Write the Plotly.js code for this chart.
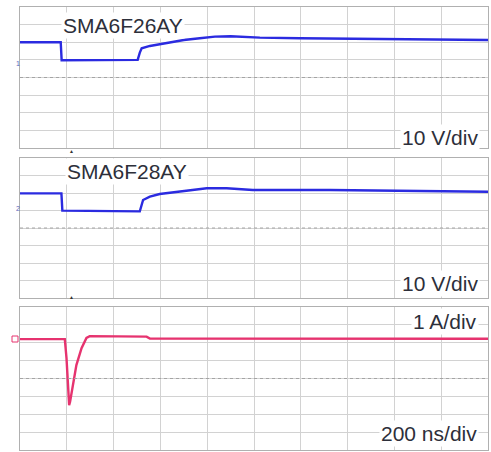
<!DOCTYPE html>
<html>
<head>
<meta charset="utf-8">
<script src="https://cdn.plot.ly/plotly-3.0.1.min.js"></script>
<style>html,body{margin:0;padding:0;background:#fff;}#chart{width:491px;height:452px;}</style>
</head>
<body>
<div id="chart"></div>
<script>
// Time axis (ns), 200 ns/div, trigger at 0
var timeRange = [-200, 1800];

// Panel 1: SMA6F26AY voltage (V, relative to channel ground marker)
var time1 = [-200, -26, -22, 303, 312, 320, 355, 400, 453, 500, 568, 633, 700, 825, 996, 1209, 1423, 1637, 1800];
var volt1 = [8.9, 8.9, -1.3, -1.1, 3.0, 5.5, 6.8, 7.8, 9.2, 10.2, 11.2, 12.1, 12.3, 11.5, 11.2, 11.0, 10.8, 10.5, 10.2];

// Panel 2: SMA6F28AY voltage (V)
var time2 = [-200, -23, -19, 312, 326, 355, 397, 483, 598, 683, 795, 1124, 1800];
var volt2 = [8.4, 8.4, -1.5, -1.9, 4.6, 6.5, 8.0, 9.3, 11.3, 11.3, 10.3, 10.3, 9.3];

// Panel 3: current (A)
var time3 = [-200, -8.5, -1.3, 3, 6.4, 10, 14, 27, 41, 63, 84, 98, 200, 341, 355, 600, 1000, 1400, 1800];
var curr3 = [0, 0, -1.06, -2.29, -3.41, -3.69, -3.5, -2.57, -1.45, -0.50, 0.07, 0.17, 0.14, 0.14, 0.03, 0.03, 0.04, 0.03, 0.02];

// Labels
var panelNames = ["SMA6F26AY", "SMA6F28AY"];
var scaleLabels = ["10 V/div", "10 V/div", "1 A/div", "200 ns/div"];

// Screen centres (in data units) and per-division sizes
var centers = [-11.1, -11.4, -2.2];
var perDiv = [10, 10, 1];

var W = 491, H = 452;
function px(x) { return x / W; }
function py(y) { return 1 - y / H; }

var blue = "#2b2be0";
var pink = "#e6336f";
var gridCol = "#d2d2d2";
var borderCol = "#b0b0b0";
var textCol = "#2d2f3a";
var fontFam = "Liberation Sans, Arial, sans-serif";

var traces = [
  {x: time1, y: volt1, xaxis: "x", yaxis: "y", mode: "lines", line: {color: blue, width: 2.4}, hoverinfo: "skip"},
  {x: time2, y: volt2, xaxis: "x2", yaxis: "y2", mode: "lines", line: {color: blue, width: 2.4}, hoverinfo: "skip"},
  {x: time3, y: curr3, xaxis: "x3", yaxis: "y3", mode: "lines", line: {color: pink, width: 2.4}, hoverinfo: "skip"}
];

var xdom = [px(20), px(488)];
var ydoms = [[py(148), py(7)], [py(298), py(158)], [py(450), py(307)]];

function xax(anchor) {
  return {domain: xdom, range: timeRange, tick0: -200, dtick: 200, showgrid: true, gridcolor: gridCol, gridwidth: 1,
    showticklabels: false, ticks: "", zeroline: false, showline: true, mirror: true, linecolor: borderCol, linewidth: 1,
    anchor: anchor, fixedrange: true};
}
function yax(i, anchor) {
  return {domain: ydoms[i], range: [centers[i] - 4 * perDiv[i], centers[i] + 4 * perDiv[i]], tick0: centers[i], dtick: perDiv[i],
    showgrid: true, gridcolor: gridCol, gridwidth: 1, showticklabels: false, ticks: "", zeroline: false,
    showline: true, mirror: true, linecolor: borderCol, linewidth: 1, anchor: anchor, fixedrange: true};
}

var shapes = [];
var yrefs = ["y", "y2", "y3"], xrefs = ["x", "x2", "x3"];
for (var i = 0; i < 3; i++) {
  shapes.push({type: "line", xref: xrefs[i], yref: yrefs[i], x0: timeRange[0], x1: timeRange[1], y0: centers[i], y1: centers[i],
    line: {color: "#a4a4a4", width: 1, dash: "3px,3px"}, layer: "above"});
}
// channel marker for current channel
shapes.push({type: "rect", xref: "paper", yref: "paper", x0: px(12), x1: px(18), y0: py(342), y1: py(336),
  line: {color: pink, width: 1}, fillcolor: "rgba(0,0,0,0)"});

function ann(text, x, y, xanchor) {
  return {text: text, xref: "paper", yref: "paper", x: x, y: y, xanchor: xanchor, yanchor: "middle", showarrow: false,
    font: {family: fontFam, size: 21, color: textCol}, bgcolor: "#ffffff", borderpad: 1};
}
var annotations = [
  ann(panelNames[0], px(61), py(25), "left"),
  ann(panelNames[1], px(65), py(172), "left"),
  ann(scaleLabels[0], px(480), py(137.5), "right"),
  ann(scaleLabels[1], px(480), py(283), "right"),
  ann(scaleLabels[2], px(479), py(321), "right"),
  ann(scaleLabels[3], px(479), py(433), "right"),
  {text: "▲", xref: "paper", yref: "paper", x: px(67), y: py(151), showarrow: false, font: {size: 5, color: "#333"}},
  {text: "▲", xref: "paper", yref: "paper", x: px(67), y: py(302), showarrow: false, font: {size: 5, color: "#333"}},
  {text: "1", xref: "paper", yref: "paper", x: px(14), y: py(58), showarrow: false, font: {family: fontFam, size: 7, color: "#5a68c0"}},
  {text: "2", xref: "paper", yref: "paper", x: px(14), y: py(208), showarrow: false, font: {family: fontFam, size: 7, color: "#5a68c0"}}
];

var layout = {
  width: W, height: H, autosize: false,
  margin: {l: 0, r: 0, t: 0, b: 0, pad: 0},
  paper_bgcolor: "#ffffff", plot_bgcolor: "#ffffff",
  showlegend: false,
  xaxis: xax("y"), yaxis: yax(0, "x"),
  xaxis2: xax("y2"), yaxis2: yax(1, "x2"),
  xaxis3: xax("y3"), yaxis3: yax(2, "x3"),
  shapes: shapes,
  annotations: annotations
};

Plotly.newPlot("chart", traces, layout, {displayModeBar: false, staticPlot: true});
</script>
</body>
</html>
